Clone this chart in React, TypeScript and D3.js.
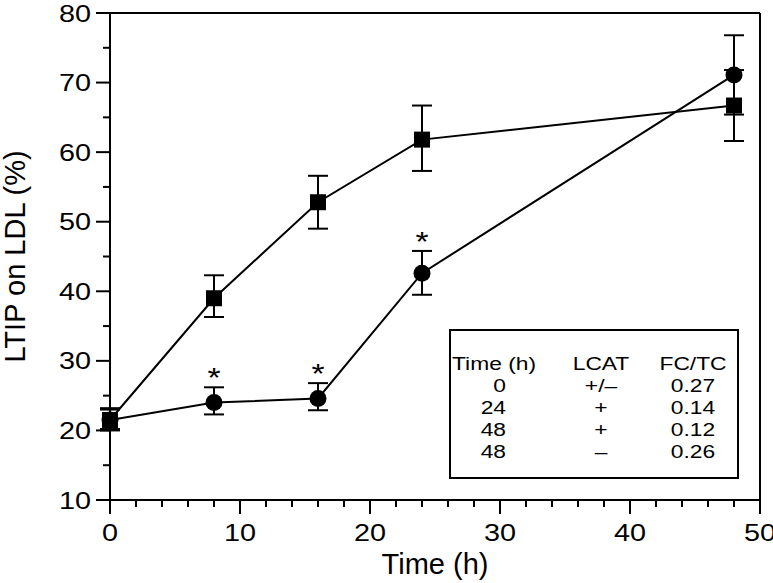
import React from "react";
import * as d3 from "d3";

const times = [0, 8, 16, 24, 48];
const squareMean = [21.5, 39.0, 52.8, 61.8, 66.7];
const squareLow = [20.2, 36.3, 49.0, 57.3, 61.6];
const squareHigh = [23.0, 42.3, 56.6, 66.7, 71.8];
const circleMean = [21.5, 24.0, 24.6, 42.6, 71.1];
const circleLow = [20.0, 22.3, 22.9, 39.5, 65.4];
const circleHigh = [23.2, 26.2, 26.8, 45.8, 76.8];
const starTimes = [8, 16, 24];
const xTickValues = [0, 10, 20, 30, 40, 50];
const yTickValues = [10, 20, 30, 40, 50, 60, 70, 80];
const tableHeader = ["Time (h)", "LCAT", "FC/TC"];
const tableTime = ["0", "24", "48", "48"];
const tableLCAT = ["+/\u2013", "+", "+", "\u2013"];
const tableRatio = ["0.27", "0.14", "0.12", "0.26"];

const FONT = "'Liberation Sans', Arial, Helvetica, sans-serif";
const SX = 1.2;

export default function App() {
  const x = d3.scaleLinear().domain([0, 50]).range([110, 760]);
  const y = d3.scaleLinear().domain([10, 80]).range([500, 13]);
  const line = d3
    .line<number>()
    .x((_, i) => x(times[i]))
    .y((d) => y(d));
  const xMinor = d3.range(0, 50.01, 2).filter((v) => v % 10 !== 0);
  const yMinor = d3.range(15, 80, 10);
  const sw = 2;
  const cap = 10;

  const errBars = (lo: number[], hi: number[], key: string) =>
    times.map((t, i) => (
      <g key={key + i} stroke="#000" strokeWidth={sw}>
        <line x1={x(t)} x2={x(t)} y1={y(lo[i])} y2={y(hi[i])} />
        <line x1={x(t) - cap} x2={x(t) + cap} y1={y(lo[i])} y2={y(lo[i])} />
        <line x1={x(t) - cap} x2={x(t) + cap} y1={y(hi[i])} y2={y(hi[i])} />
      </g>
    ));

  const st = (tx: number, ty: number, s: string, size: number, anchor: string, key?: string | number) => (
    <text
      key={key}
      transform={`translate(${tx},${ty}) scale(${SX},1)`}
      fontSize={size}
      fontFamily={FONT}
      textAnchor={anchor as any}
    >
      {s}
    </text>
  );

  const tableRowY = [392, 414, 436, 458];

  return (
    <svg
      width={773}
      height={583}
      style={{ position: "absolute", left: 0, top: 0, background: "#fff" }}
    >
      {/* frame */}
      <g stroke="#000" strokeWidth={sw} fill="none">
        <line x1={x(0)} x2={x(50)} y1={y(10)} y2={y(10)} />
        <line x1={x(0)} x2={x(0)} y1={y(10)} y2={y(80)} />
        <line x1={x(0)} x2={x(50)} y1={y(80)} y2={y(80)} />
        <line x1={x(50)} x2={x(50)} y1={y(10)} y2={y(80)} />
      </g>
      {/* x ticks */}
      <g stroke="#000" strokeWidth={sw}>
        {xTickValues.map((v) => (
          <line key={"xt" + v} x1={x(v)} x2={x(v)} y1={y(10)} y2={y(10) + 14} />
        ))}
        {xMinor.map((v) => (
          <line key={"xm" + v} x1={x(v)} x2={x(v)} y1={y(10)} y2={y(10) + 7} />
        ))}
        {yTickValues.map((v) => (
          <line key={"yt" + v} x1={x(0) - 14} x2={x(0)} y1={y(v)} y2={y(v)} />
        ))}
        {yMinor.map((v) => (
          <line key={"ym" + v} x1={x(0) - 7} x2={x(0)} y1={y(v)} y2={y(v)} />
        ))}
      </g>
      {xTickValues.map((v) => st(x(v), 541, String(v), 24, "middle", "xl" + v))}
      {yTickValues.map((v) => st(91, y(v) + 8.5, String(v), 24, "end", "yl" + v))}
      <text
        x={(x(0) + x(50)) / 2}
        y={574}
        fontSize={29}
        fontFamily={FONT}
        textAnchor="middle"
      >
        Time (h)
      </text>
      <text
        transform={`translate(${25},${(y(10) + y(80)) / 2}) rotate(-90)`}
        fontSize={29}
        fontFamily={FONT}
        textAnchor="middle"
      >
        LTIP on LDL (%)
      </text>

      {/* lines */}
      <path d={line(squareMean) || ""} fill="none" stroke="#000" strokeWidth={sw} />
      <path d={line(circleMean) || ""} fill="none" stroke="#000" strokeWidth={sw} />
      {errBars(circleLow, circleHigh, "ce")}
      {errBars(squareLow, squareHigh, "se")}
      {times.map((t, i) => (
        <circle key={"c" + i} cx={x(t)} cy={y(circleMean[i])} r={8.5} fill="#000" />
      ))}
      {times.map((t, i) => (
        <rect
          key={"s" + i}
          x={x(t) - 8}
          y={y(squareMean[i]) - 8}
          width={16}
          height={16}
          fill="#000"
        />
      ))}
      {starTimes.map((t) => {
        const i = times.indexOf(t);
        return st(x(t), y(circleHigh[i]) - 15 + 15, "*", 28, "middle", "st" + t);
      })}

      {/* inset table */}
      <rect x={450} y={330} width={288} height={148} fill="#fff" stroke="#000" strokeWidth={sw} />
      {st(494, 370, tableHeader[0], 19, "middle", "h0")}
      {st(601, 370, tableHeader[1], 19, "middle", "h1")}
      {st(693, 370, tableHeader[2], 19, "middle", "h2")}
      {tableTime.map((s, i) => st(506, tableRowY[i], s, 19, "end", "t" + i))}
      {tableLCAT.map((s, i) => st(601, tableRowY[i], s, 19, "middle", "l" + i))}
      {tableRatio.map((s, i) => st(693, tableRowY[i], s, 19, "middle", "r" + i))}
    </svg>
  );
}
